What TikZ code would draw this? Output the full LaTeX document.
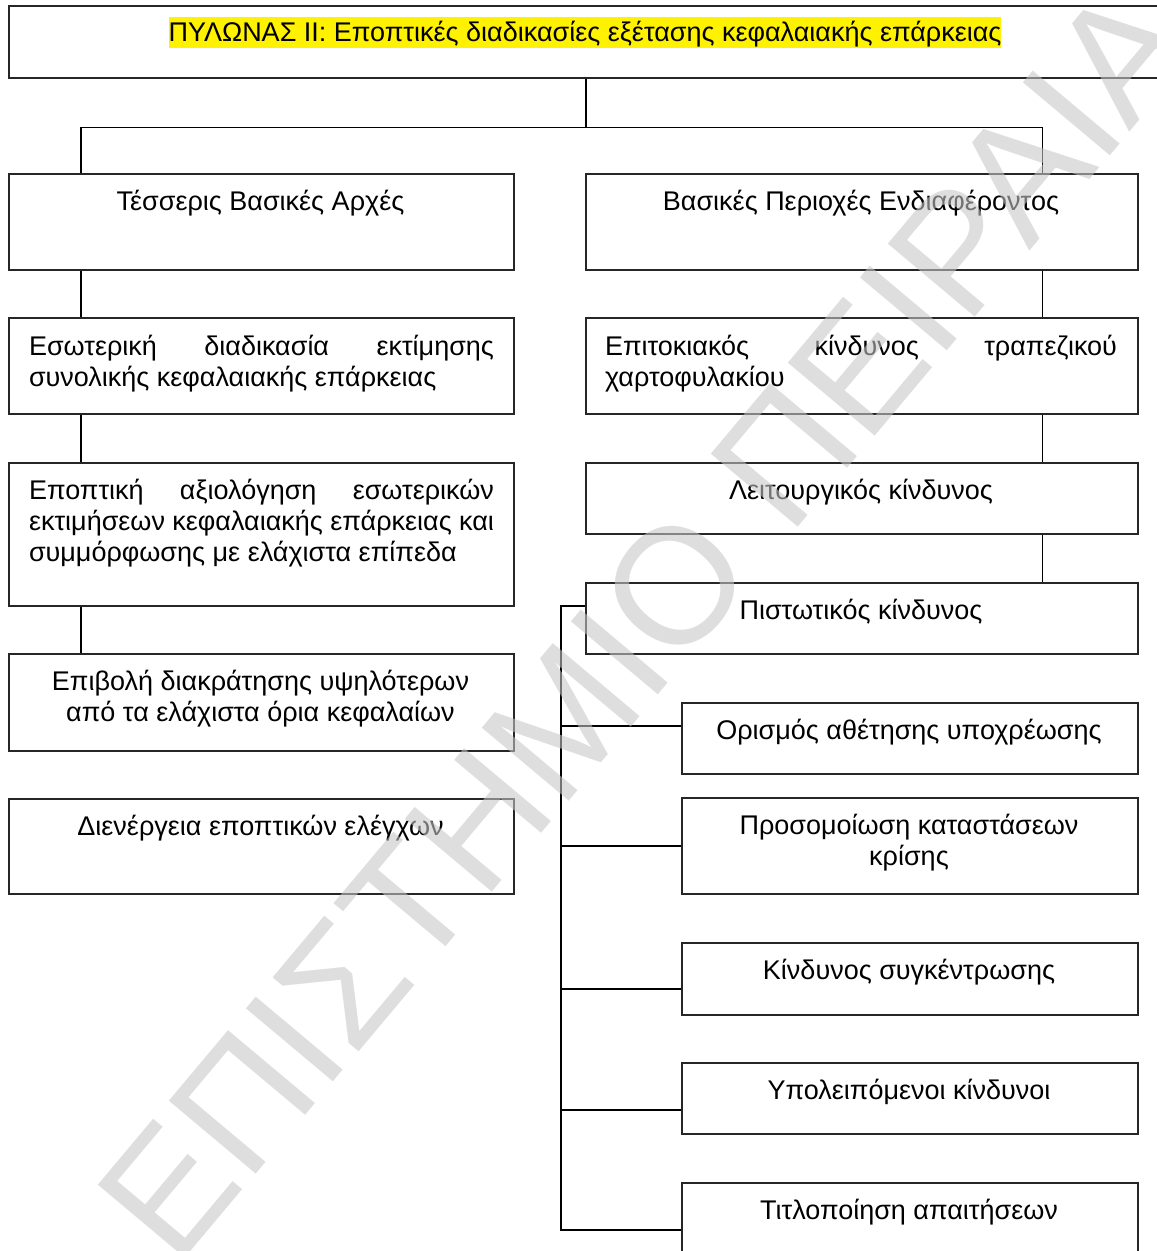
\documentclass[tikz,border=0pt]{standalone}
\usepackage{fontspec}
\setmainfont{Liberation Sans}
\usetikzlibrary{calc}
\newcommand{\bodysize}{\fontsize{27}{31}\selectfont}
\newcommand{\jline}[1]{\makebox[\linewidth][s]{#1}}
\begin{document}
\begin{tikzpicture}[x=1pt,y=-1pt,
  box/.style={draw=black!85, line width=1.5pt, rectangle, inner sep=0pt, anchor=north west},
  link/.style={draw=black, line width=1.5pt},
  txt/.style={inner sep=0pt, anchor=base, font=\bodysize},
  wmark/.style={rotate=50, inner sep=0pt, text=black!22, opacity=0.58, font=\fontsize{165}{165}\selectfont}]
\useasboundingbox (0,0) rectangle (1157,1251);
\fill[white] (0,0) rectangle (1157,1251);

% top box
\node[box, minimum width=1154pt, minimum height=72pt] (top) at (8,5) {};
\node[txt, fill=yellow, text height=24.5pt, text depth=6.5pt] (topT) at (585,41) {ΠΥΛΩΝΑΣ II: Εποπτικές διαδικασίες εξέτασης κεφαλαιακής επάρκειας};

% left column
\node[box, minimum width=505pt, minimum height=96pt] (l1) at (8,173) {};
\node[txt] (l1T) at (260.5,210) {Τέσσερις Βασικές Αρχές};
\node[box, minimum width=505pt, minimum height=96pt] (l2) at (8,317) {};
\node[txt] (l2T) at (261.5,355) {\parbox[t]{465pt}{\bodysize\jline{Εσωτερική διαδικασία εκτίμησης}\\συνολικής κεφαλαιακής επάρκειας}};
\node[box, minimum width=505pt, minimum height=143pt] (l3) at (8,462) {};
\node[txt] (l3T) at (261.5,499) {\parbox[t]{465pt}{\bodysize\jline{Εποπτική αξιολόγηση εσωτερικών}\\\jline{εκτιμήσεων κεφαλαιακής επάρκειας και}\\συμμόρφωσης με ελάχιστα επίπεδα}};
\node[box, minimum width=505pt, minimum height=97pt] (l4) at (8,653) {};
\node[txt] (l4T) at (260.5,690) {\parbox[t]{480pt}{\centering\bodysize Επιβολή διακράτησης υψηλότερων\\από τα ελάχιστα όρια κεφαλαίων}};
\node[box, minimum width=505pt, minimum height=95pt] (l5) at (8,798) {};
\node[txt] (l5T) at (260.5,835) {Διενέργεια εποπτικών ελέγχων};

% right column
\node[box, minimum width=552pt, minimum height=96pt] (r1) at (585,173) {};
\node[txt] (r1T) at (861,210) {Βασικές Περιοχές Ενδιαφέροντος};
\node[box, minimum width=552pt, minimum height=96pt] (r2) at (585,317) {};
\node[txt] (r2T) at (861,355) {\parbox[t]{512pt}{\bodysize\jline{Επιτοκιακός κίνδυνος τραπεζικού}\\χαρτοφυλακίου}};
\node[box, minimum width=552pt, minimum height=71pt] (r3) at (585,462) {};
\node[txt] (r3T) at (861,499) {Λειτουργικός κίνδυνος};
\node[box, minimum width=552pt, minimum height=71pt] (r4) at (585,582) {};
\node[txt] (r4T) at (861,619) {Πιστωτικός κίνδυνος};

% credit risk sub-boxes
\node[box, minimum width=456pt, minimum height=71pt] (s1) at (681,702) {};
\node[txt] (s1T) at (909,739) {Ορισμός αθέτησης υποχρέωσης};
\node[box, minimum width=456pt, minimum height=96pt] (s2) at (681,797) {};
\node[txt] (s2T) at (909,834) {\parbox[t]{440pt}{\centering\bodysize Προσομοίωση καταστάσεων\\κρίσης}};
\node[box, minimum width=456pt, minimum height=72pt] (s3) at (681,942) {};
\node[txt] (s3T) at (909,979) {Κίνδυνος συγκέντρωσης};
\node[box, minimum width=456pt, minimum height=71pt] (s4) at (681,1062) {};
\node[txt] (s4T) at (909,1099) {Υπολειπόμενοι κίνδυνοι};
\node[box, minimum width=456pt, minimum height=80pt] (s5) at (681,1182) {};
\node[txt] (s5T) at (909,1219) {Τιτλοποίηση απαιτήσεων};

% connectors
\draw[link] (top.south) -- ++(0,49) coordinate (hub);
\draw[link] ([xshift=73pt]l1.north west) |- (hub) -| ([xshift=-96pt]r1.north east);
\draw[link] ([xshift=73pt]l1.south west) -- ([xshift=73pt]l2.north west);
\draw[link] ([xshift=73pt]l2.south west) -- ([xshift=73pt]l3.north west);
\draw[link] ([xshift=73pt]l3.south west) -- ([xshift=73pt]l4.north west);
\draw[link] ([xshift=-96pt]r1.south east) -- ([xshift=-96pt]r2.north east);
\draw[link] ([xshift=-96pt]r2.south east) -- ([xshift=-96pt]r3.north east);
\draw[link] ([xshift=-96pt]r3.south east) -- ([xshift=-96pt]r4.north east);
\coordinate (bt) at ([yshift=-24pt,xshift=-24pt]r4.north west);
\draw[link] ([yshift=-24pt]r4.north west) -- (bt) -- (bt |- 0,1230) -- ([yshift=-48pt]s5.north west);
\draw[link] ([yshift=-24pt]s1.north west) -- ([yshift=-24pt]s1.north west -| bt);
\draw[link] ([yshift=-49pt]s2.north west) -- ([yshift=-49pt]s2.north west -| bt);
\draw[link] ([yshift=-47pt]s3.north west) -- ([yshift=-47pt]s3.north west -| bt);
\draw[link] ([yshift=-48pt]s4.north west) -- ([yshift=-48pt]s4.north west -| bt);

% watermark
\node[wmark] (wm) at (645,622) {ΕΠΙΣΤΗΜΙΟ ΠΕΙΡΑΙΑ};
\end{tikzpicture}
\end{document}
